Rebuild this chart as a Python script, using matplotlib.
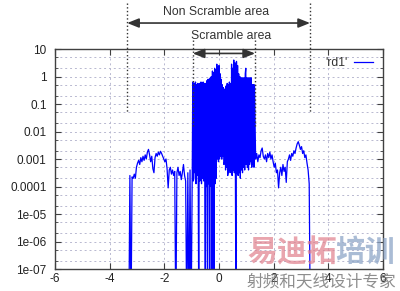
import numpy as np
import matplotlib
matplotlib.use("Agg")
from matplotlib import pyplot as plt
from matplotlib.ticker import FixedLocator, LogLocator, NullFormatter

plt.rcParams["font.family"] = ["Liberation Sans", "Noto Sans CJK SC", "DejaVu Sans"]
plt.rcParams["axes.unicode_minus"] = False

# log10 of the 'rd1' level; -9 marks a dropout to zero
left_x0, left_step = -3.30, 0.04
left_exp = [
    -9, -3.6, -9, -3.65, -3.7, -3.55, -3.7, -3.3, -3.15, -3.05,
    -3.2, -2.95, -3.1, -2.9, -3.05, -2.85, -3.0, -2.75, -2.65, -2.85,
    -3.1, -2.9, -3.35, -3.5, -2.95, -2.8, -2.9, -2.75, -2.85, -2.72,
    -2.8, -2.9, -3.0, -3.1, -3.0, -3.35, -4.05, -3.4, -3.3, -3.55,
    -3.4, -3.6, -3.45, -9, -3.5, -3.3, -3.6, -3.45, -3.75, -3.5,
    -3.2, -3.6, -3.8, -9, -3.5, -9, -3.4, -9,
]
scramble_x0, scramble_step = -0.98, 0.02
scramble_exp = [
    -3.6, -0.2, -3.8, -3.7, -0.25, -3.5, -0.2, -3.9, -0.3, -3.6,
    -0.25, -3.7, -9, -0.25, -3.8, -3.6, -0.2, -3.9, -0.22, -3.7,
    -0.2, -3.8, -0.25, -3.9, -9, -0.25, -4.0, -0.15, -9, -0.1,
    -3.9, -0.1, -9, -0.05, -4.0, 0.0, -9, 0.2, -3.8, 0.15,
    -9, 0.3, -3.9, 0.25, -3.7, 0.45, -3.0, 0.35, -3.1, 0.4,
    -3.0, 0.1, -2.9, -0.1, -3.0, -0.3, -2.9, -0.4, -3.2, -3.1,
    -0.45, -3.4, -0.35, -3.3, -0.25, -3.6, -0.3, -3.5, -0.2, -3.4,
    -0.25, -3.5, 0.45, -3.6, 0.3, -3.4, 0.6, -3.5, 0.5, -3.6,
    -9, 0.55, -3.5, 0.4, -3.6, 0.1, -3.5, 0.0, -3.7, -0.05,
    -3.4, -0.05, -3.5, -0.05, -3.3, -0.05, -3.4, 0.1, 0.3, -3.2,
    -0.05, -3.3, -0.05, -3.4, -0.05, -3.2, -0.05, -3.1, -0.05, -3.3,
    -0.3, -3.2, -0.3, -3.3, -0.3,
]
right_x0, right_step = 1.34, 0.04
right_exp = [
    -3.0, -2.8, -3.1, -2.85, -2.95, -2.7, -2.6, -2.9, -3.0, -2.85,
    -3.1, -2.8, -2.95, -2.75, -3.0, -2.85, -3.1, -3.3, -3.15, -3.5,
    -3.4, -4.05, -3.5, -3.3, -3.6, -3.2, -3.45, -3.3, -3.85, -3.1,
    -3.0, -2.85, -3.05, -2.8, -2.9, -2.7, -2.8, -2.6, -2.45, -2.37,
    -2.5, -2.65, -2.55, -2.8, -2.7, -2.95, -2.85, -3.15, -3.4, -3.9,
    -9,
]

x_ticks = [-6, -4, -2, 0, 2, 4, 6]
y_ticks = [1e1, 1e0, 1e-1, 1e-2, 1e-3, 1e-4, 1e-5, 1e-6, 1e-7]
y_labels = ["10", "1", "0.1", "0.01", "0.001", "0.0001", "1e-05", "1e-06", "1e-07"]

non_scramble = (-3.36, 3.33)
scramble = (-0.96, 1.32)


def segment(x0, dx, exps):
    xs = x0 + dx * np.arange(len(exps))
    return xs, 10.0 ** np.array(exps)


parts = [
    segment(left_x0, left_step, left_exp),
    segment(scramble_x0, scramble_step, scramble_exp),
    segment(right_x0, right_step, right_exp),
]
x = np.concatenate([p[0] for p in parts])
y = np.concatenate([p[1] for p in parts])

fig = plt.figure(figsize=(4.0, 2.91), dpi=100)
ax = fig.add_axes([0.1375, 0.0756, 0.82, 0.756])

ax.plot(x, y, color="#0000ff", lw=0.9, label="'rd1'")

ax.set_yscale("log")
ax.set_xlim(-6, 6)
ax.set_ylim(1e-7, 10)
ax.xaxis.set_major_locator(FixedLocator(x_ticks))
ax.set_xticklabels([str(t) for t in x_ticks])
ax.yaxis.set_major_locator(FixedLocator(y_ticks))
ax.set_yticklabels(y_labels)
ax.yaxis.set_minor_locator(LogLocator(base=10, subs=(2.0, 5.0), numticks=20))
ax.yaxis.set_minor_formatter(NullFormatter())

ax.tick_params(which="both", direction="in", top=True, right=True,
               labelsize=8.5, labelcolor="#222222", color="#404040")
ax.tick_params(axis="y", which="major", length=4, pad=6)
ax.tick_params(axis="x", which="major", length=4, pad=3)
ax.tick_params(which="minor", length=2)

grid_style = dict(color="#b8b8d0", lw=0.7, ls=(0, (2, 3)))
ax.grid(True, which="major", **grid_style)
ax.grid(True, which="minor", axis="y", **grid_style)
ax.set_axisbelow(True)

for s in ax.spines.values():
    s.set_color("#404040")
    s.set_linewidth(1.0)

ax.legend(loc="center right", bbox_to_anchor=(0.970, 0.936), frameon=False,
          markerfirst=False, fontsize=8.8, handlelength=1.6, handletextpad=0.5,
          borderpad=0, borderaxespad=0, labelcolor="#333333")

# area markers drawn above the plot
ann = "#333333"
for xv in non_scramble:
    ax.plot([xv, xv], [470, 0.05], ls=":", color=ann, lw=1, clip_on=False)
for xv in scramble:
    ax.plot([xv, xv], [21, 0.0145], ls=":", color=ann, lw=1, clip_on=False)

arrow = dict(arrowstyle="<|-|>,head_length=0.7,head_width=0.28", color=ann,
             lw=1.2, shrinkA=0, shrinkB=0)
ax.annotate("", xy=(non_scramble[0], 88), xytext=(non_scramble[1], 88),
            arrowprops=arrow, annotation_clip=False)
ax.annotate("", xy=(scramble[0], 6.9), xytext=(scramble[1], 6.9),
            arrowprops=arrow, annotation_clip=False)
ax.text(-0.11, 227, "Non Scramble area", ha="center", va="center",
        fontsize=8.8, color=ann, clip_on=False)
ax.text(0.44, 29.5, "Scramble area", ha="center", va="center",
        fontsize=8.8, color=ann, clip_on=False)

# watermark
wm_font = ["Noto Sans CJK SC", "DejaVu Sans"]
fig.text(0.6175, 0.134, "易迪拓", ha="left", va="center", fontsize=21.5,
         fontweight="bold", color="#e07f8c", alpha=0.7, family=wm_font)
fig.text(0.838, 0.134, "培训", ha="left", va="center", fontsize=21.5,
         fontweight="bold", color="#8ea6c8", alpha=0.75, family=wm_font)
fig.text(0.6175, 0.031, "射频和天线设计专家", ha="left", va="center", fontsize=12,
         color="#7a7a7a", alpha=0.85, family=wm_font)

fig.savefig("out.png", dpi=100)
